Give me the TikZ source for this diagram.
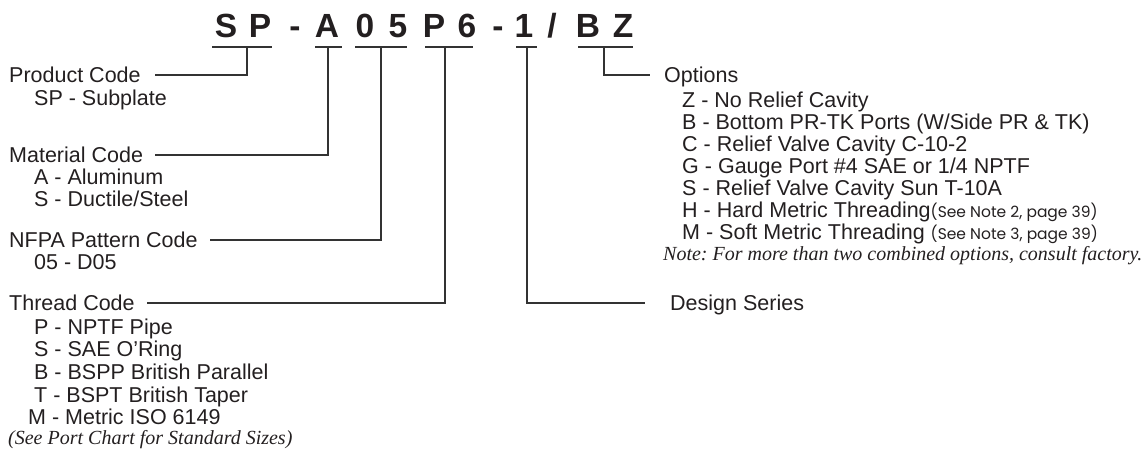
\documentclass[tikz,border=0pt]{standalone}
\usepackage{fontspec}
\setmainfont{Liberation Sans}
\newfontfamily\noteserif{Liberation Serif}
\newfontfamily\smallgeo{Poppins}
\definecolor{txt}{HTML}{231F20}
\definecolor{ln}{HTML}{333333}
\frenchspacing
\tikzset{
  lbl/.style={anchor=base west, inner sep=0pt, text=txt, font=\fontsize{21.5}{22}\selectfont},
  ttl/.style={anchor=base, inner sep=0pt, text=txt, font=\bfseries\fontsize{33.5}{34}\selectfont},
  note/.style={anchor=base west, inner sep=0pt, text=txt, font=\noteserif\itshape\fontsize{20}{22}\selectfont},
  conn/.style={draw=ln, line width=1.2pt},
}
\newcommand{\sm}[1]{{\smallgeo\fontsize{15.5}{16}\selectfont #1}}
\begin{document}
\begin{tikzpicture}[x=1pt,y=-1pt]
\useasboundingbox (0,0) rectangle (1146,448);
% title characters
\node[ttl] (cS) at (226,37) {S};
\node[ttl] (cP) at (260,37) {P};
\node[ttl] (d1) at (295,37) {-};
\node[ttl] (cA) at (327,37) {A};
\node[ttl] (c0) at (365,37) {0};
\node[ttl] (c5) at (398,37) {5};
\node[ttl] (cP2) at (434,37) {P};
\node[ttl] (c6) at (467,37) {6};
\node[ttl] (d2) at (498,37) {-};
\node[ttl] (c1) at (524,37) {1};
\node[ttl] (sl) at (552,37) {/};
\node[ttl] (cB) at (588,37) {B};
\node[ttl] (cZ) at (623,37) {Z};
% underlines
\coordinate (u1a) at (212,47); \coordinate (u1b) at (272,47); \coordinate (t1) at (247,47);
\coordinate (u2a) at (315,47); \coordinate (u2b) at (342,47); \coordinate (t2) at (328,47);
\coordinate (u3a) at (355,47); \coordinate (u3b) at (407,47); \coordinate (t3) at (381,47);
\coordinate (u4a) at (425,47); \coordinate (u4b) at (473,47); \coordinate (t4) at (445,47);
\coordinate (u5a) at (516,47); \coordinate (u5b) at (537,47); \coordinate (t5) at (527,47);
\coordinate (u6a) at (578,47); \coordinate (u6b) at (633,47); \coordinate (t6) at (604,47);
\foreach \i in {1,...,6} { \draw[conn] (u\i a) -- (u\i b); }
% left column
\node[lbl] (prod) at (9,82) {Product Code};
\node[lbl] (prod1) at (34,105) {SP - Subplate};
\node[lbl] (mat) at (9,162) {Material Code};
\node[lbl] (mat1) at (34,184) {A - Aluminum};
\node[lbl] (mat2) at (34,206) {S - Ductile/Steel};
\node[lbl] (nfpa) at (9,247) {NFPA Pattern Code};
\node[lbl] (nfpa1) at (34,269) {05 - D05};
\node[lbl] (thr) at (9,310) {Thread Code};
\node[lbl] (thr1) at (34,334) {P - NPTF Pipe};
\node[lbl] (thr2) at (34,356) {S - SAE O’Ring};
\node[lbl] (thr3) at (34,379) {B - BSPP British Parallel};
\node[lbl] (thr4) at (34,402) {T - BSPT British Taper};
\node[lbl] (thr5) at (28,424) {M - Metric ISO 6149};
\node[note] (thrn) at (8,444) {(See Port Chart for Standard Sizes)};
% right column
\node[lbl] (opt) at (664,82) {Options};
\node[lbl] (o1) at (682,107) {Z - No Relief Cavity};
\node[lbl] (o2) at (682,129) {B - Bottom PR-TK Ports (W/Side PR \& TK)};
\node[lbl] (o3) at (682,151) {C - Relief Valve Cavity C-10-2};
\node[lbl] (o4) at (682,173) {G - Gauge Port \#4 SAE or 1/4 NPTF};
\node[lbl] (o5) at (682,195) {S - Relief Valve Cavity Sun T-10A};
\node[lbl] (o6) at (682,217) {H - Hard Metric Threading\sm{(See Note 2, page 39)}};
\node[lbl] (o7) at (682,239) {M - Soft Metric Threading \sm{(See Note 3, page 39)}};
\node[note] (on) at (663,260) {Note: For more than two combined options, consult factory.};
\node[lbl] (des) at (670,310) {Design Series};
% connectors
\draw[conn] (t1) |- ([xshift=14pt]prod.east |- 0,75);
\draw[conn] (t2) |- ([xshift=12pt]mat.east |- 0,155);
\draw[conn] (t3) |- ([xshift=12pt]nfpa.east |- 0,240);
\draw[conn] (t4) |- ([xshift=12pt]thr.east |- 0,303);
\draw[conn] (t5) |- ([xshift=-25pt]des.west |- 0,303);
\draw[conn] (t6) |- ([xshift=-14pt]opt.west |- 0,75);
\end{tikzpicture}
\end{document}
